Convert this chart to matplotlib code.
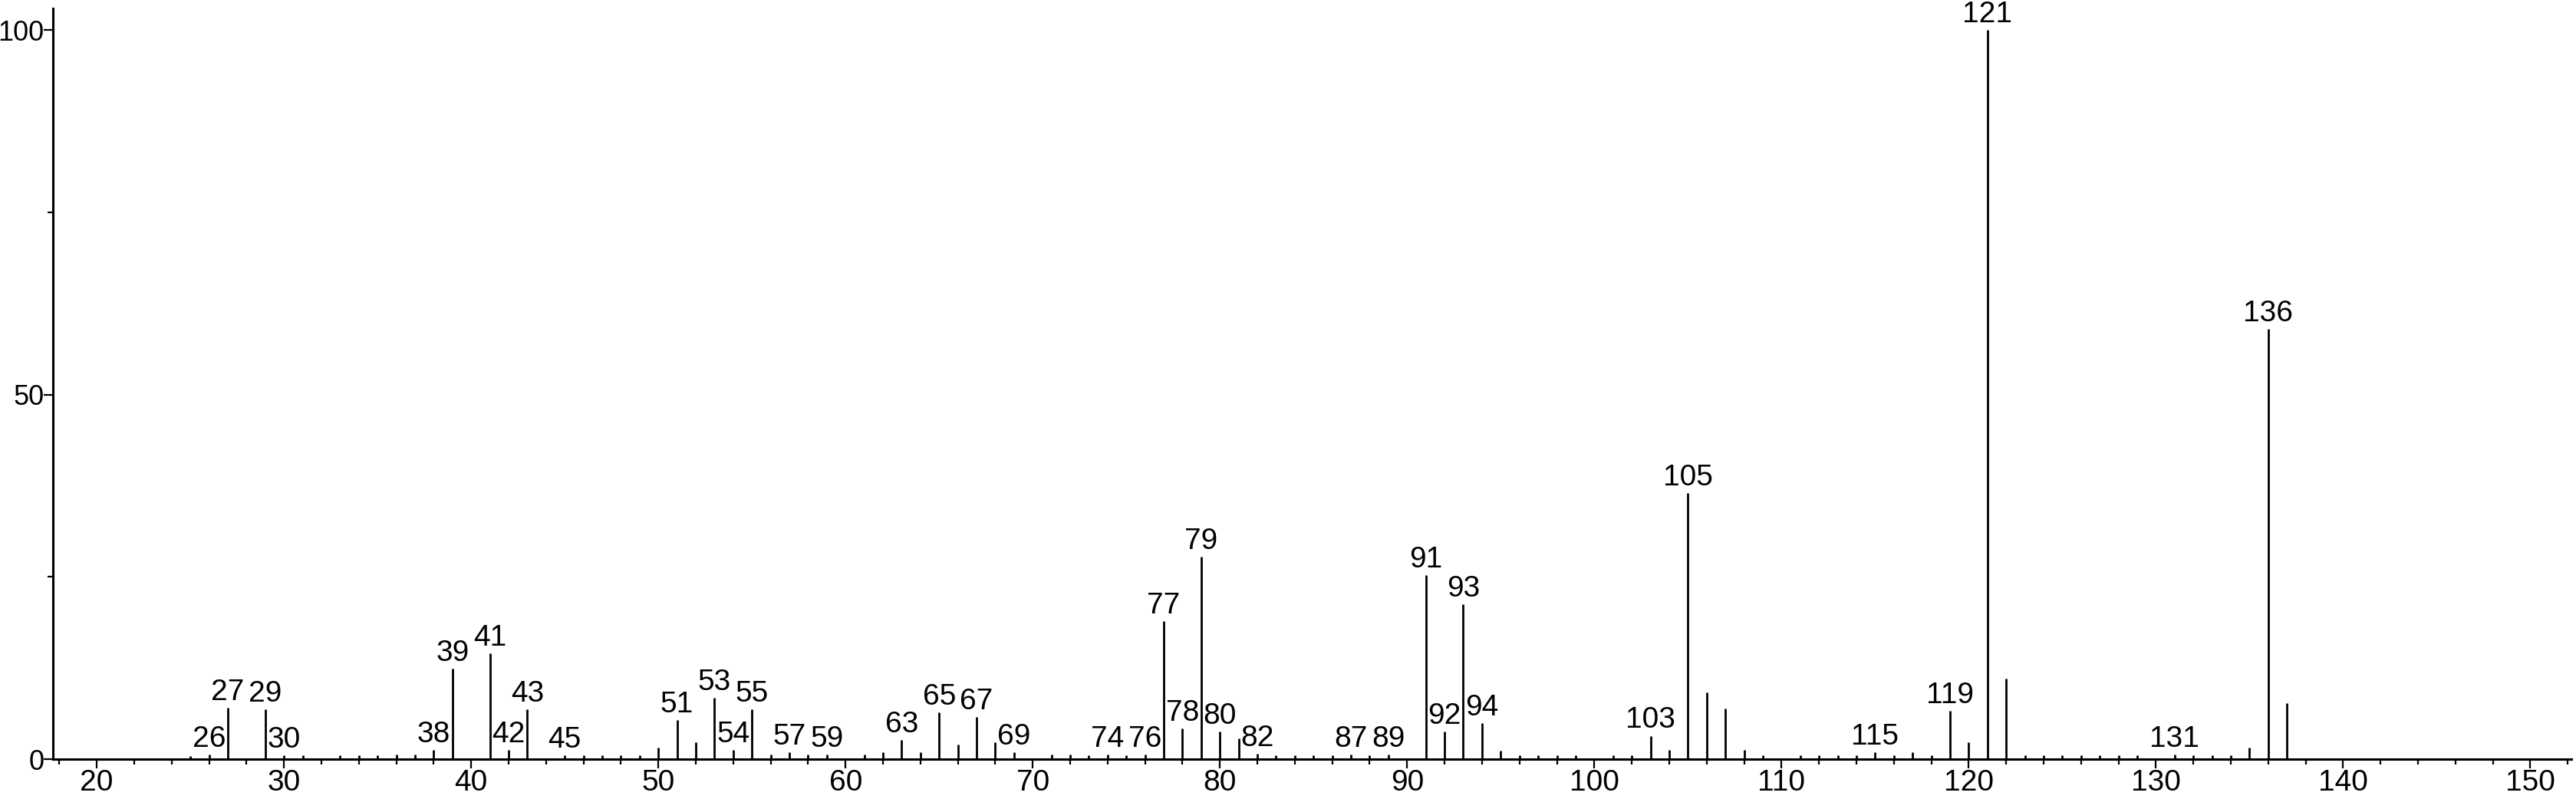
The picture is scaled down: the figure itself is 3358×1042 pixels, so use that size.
import numpy as np
import matplotlib.pyplot as plt
from matplotlib.ticker import MultipleLocator

plt.rcParams['font.family'] = ['Liberation Sans Narrow', 'Liberation Sans', 'DejaVu Sans']

# m/z and relative abundance
mz = [25, 26, 27, 29, 30, 31, 33, 34, 35, 36, 37, 38, 39, 41, 42, 43, 45,
      46, 47, 48, 49, 50, 51, 52, 53, 54, 55, 56, 57, 58, 59, 61, 62, 63,
      64, 65, 66, 67, 68, 69, 71, 72, 73, 74, 75, 76, 77, 78, 79, 80, 81,
      82, 83, 84, 85, 86, 87, 88, 89, 91, 92, 93, 94, 95, 96, 97, 98, 99,
      101, 102, 103, 104, 105, 106, 107, 108, 109, 111, 112, 113, 114, 115,
      116, 117, 118, 119, 120, 121, 122, 123, 124, 125, 126, 127, 128, 129,
      131, 132, 133, 134, 135, 136, 137]
intensity = [0.4, 0.6, 7.0, 6.8, 0.55, 0.5, 0.5, 0.5, 0.5, 0.6, 0.6, 1.3, 12.4,
             14.5, 1.25, 6.8, 0.55,
             0.5, 0.5, 0.5, 0.5, 1.6, 5.4, 2.3, 8.4, 1.25, 6.8, 0.6, 0.9, 0.6,
             0.6, 0.6, 0.9, 2.6,
             0.9, 6.4, 2.0, 5.8, 2.3, 0.9, 0.6, 0.6, 0.5, 0.6, 0.5, 0.6, 18.9,
             4.2, 27.8, 3.8, 2.8,
             0.7, 0.5, 0.5, 0.5, 0.5, 0.6, 0.5, 0.6, 25.2, 3.8, 21.2, 4.9, 1.2,
             0.5, 0.5, 0.5, 0.5,
             0.5, 0.5, 3.2, 1.25, 36.5, 9.2, 6.9, 1.25, 0.5, 0.5, 0.5, 0.5, 0.5,
             0.9,
             0.5, 0.9, 0.5, 6.6, 2.3, 100.0, 11.0, 0.5, 0.5, 0.5, 0.5, 0.5, 0.5,
             0.5,
             0.6, 0.5, 0.5, 0.5, 1.6, 59.0, 7.7]

labeled = [26, 27, 29, 30, 38, 39, 41, 42, 43, 45, 51, 53, 54, 55, 57, 59,
           63, 65, 67, 69, 74, 76, 77, 78, 79, 80, 82, 87, 89, 91, 92, 93, 94,
           103, 105, 115, 119, 121, 131, 136]

fs = 28

fig = plt.figure(figsize=(33.58, 10.42), dpi=100)
ax = fig.add_axes([0.02055, 0.0499, 0.9777, 0.94])

ax.vlines(mz, 0, intensity, colors='black', linewidth=2.0)

lookup = dict(zip(mz, intensity))
for m in labeled:
    ax.annotate(str(m), (m, lookup[m]), xytext=(0, 1.5), textcoords='offset points',
                ha='center', va='bottom', fontsize=fs, color='black')

ax.set_xlim(17.66, 152.2)
ax.set_ylim(0, 103)

for s in ['top', 'right']:
    ax.spines[s].set_visible(False)
for s in ['left', 'bottom']:
    ax.spines[s].set_linewidth(2.2)

ax.xaxis.set_major_locator(MultipleLocator(10))
ax.xaxis.set_minor_locator(MultipleLocator(2))
ax.yaxis.set_major_locator(MultipleLocator(50))
ax.yaxis.set_minor_locator(MultipleLocator(25))
ax.tick_params(which='major', length=8.5, width=1.6, labelsize=fs, pad=1)
ax.tick_params(axis='y', which='major', labelsize=26, pad=0)
ax.tick_params(which='minor', length=5, width=1.6)

fig.savefig('out.png', dpi=100, facecolor='white')
